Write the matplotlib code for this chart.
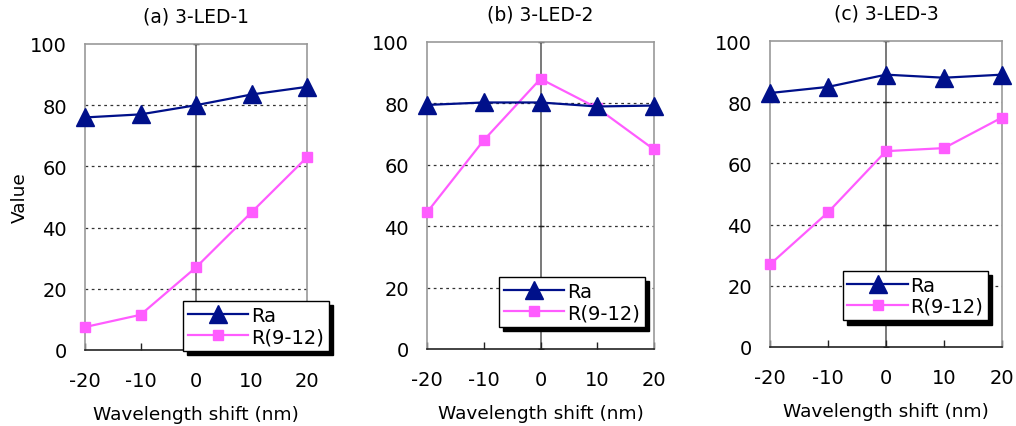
import matplotlib
matplotlib.use("Agg")
import matplotlib.pyplot as plt

plt.rcParams['font.family'] = ['DejaVu Sans']

shift = [-20, -10, 0, 10, 20]
titles = ["(a) 3-LED-1", "(b) 3-LED-2", "(c) 3-LED-3"]
ra_a = [76, 77, 80, 83.5, 86]
r912_a = [7.5, 11.5, 27, 45, 63]
ra_b = [79.5, 80.3, 80.3, 79, 79.3]
r912_b = [44.5, 68, 88, 78.5, 65]
ra_c = [83, 85, 89, 88, 89]
r912_c = [27, 44, 64, 65, 75]
yticks = [0, 20, 40, 60, 80, 100]
grid_vals = [20, 40, 60, 80]

ra_sets = [ra_a, ra_b, ra_c]
r_sets = [r912_a, r912_b, r912_c]

fig = plt.figure(figsize=(10.16, 4.27), dpi=100)
positions = [
    [85/1016, 1-351/427, 222/1016, 306/427],
    [427/1016, 1-350/427, 227/1016, 307/427],
    [770/1016, 1-348/427, 232/1016, 306/427],
]
legend_anchor = [(1.099, -0.003), (0.959, 0.072), (0.941, 0.087)]

NAVY = '#00108a'
PINK = '#ff5cff'

for i, ax_pos in enumerate(positions):
    ax = fig.add_axes(ax_pos)
    ax.set_xlim(-20, 20)
    ax.set_ylim(0, 100)
    for y in grid_vals:
        ax.axhline(y, color='#333333', lw=0.9, ls=(0, (2.2, 2.8)), zorder=1)
    ax.axvline(0, color='#555555', lw=1.1, zorder=1)
    ax.plot([0] * len(yticks), yticks, ls='none', marker='_', ms=5, mew=1,
            color='#222222', zorder=1)
    l1, = ax.plot(shift, ra_sets[i], color=NAVY, lw=1.6, marker='^', ms=12.5,
                  mfc=NAVY, mec=NAVY, clip_on=False, zorder=4, label='Ra')
    l2, = ax.plot(shift, r_sets[i], color=PINK, lw=1.6, marker='s', ms=7,
                  mfc=PINK, mec=PINK, clip_on=False, zorder=3, label='R(9-12)')
    for s in ['left', 'right', 'top']:
        ax.spines[s].set_color('#999999')
        ax.spines[s].set_linewidth(1.2)
    ax.spines['bottom'].set_color('#222222')
    ax.spines['bottom'].set_linewidth(1.2)
    ax.set_xticks(shift)
    ax.set_xticklabels([str(v) for v in shift])
    ax.set_yticks(yticks)
    ax.tick_params(axis='x', direction='in', length=5, width=1, color='#222222',
                   labelsize=14, pad=15)
    ax.tick_params(axis='y', length=0, labelsize=14, pad=13)
    ax.set_title(titles[i], fontsize=13.5, pad=16)
    ax.set_xlabel('Wavelength shift (nm)', fontsize=13.3, labelpad=11)
    if i == 0:
        ax.set_ylabel('Value', fontsize=13.3, labelpad=1)
    leg = ax.legend(handles=[l1, l2], loc='lower right',
                    bbox_to_anchor=legend_anchor[i], borderaxespad=0,
                    fontsize=14, frameon=True, fancybox=False,
                    shadow={'ox': 3, 'oy': -3, 'color': 'black', 'alpha': 1},
                    handlelength=3.1, handletextpad=0.15, labelspacing=0.1,
                    borderpad=0.25, framealpha=1)
    leg.get_frame().set_edgecolor('black')
    leg.get_frame().set_linewidth(1.0)
    leg.set_zorder(10)

fig.savefig('out.png', dpi=100)
